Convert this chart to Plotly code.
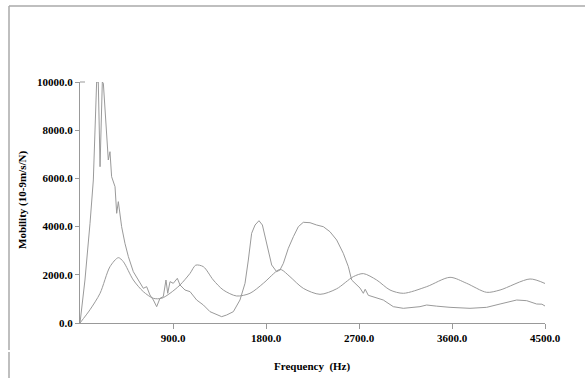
import plotly.graph_objects as go

# Jagged (measured) mobility curve
freq_a = [0, 48, 97, 129, 161, 170, 177, 194, 216, 226, 258, 274, 290, 306, 339, 355, 371, 387, 403,
          435, 468, 516, 565, 613, 645, 677, 710, 742, 774, 806, 832, 849, 871, 903, 942, 968, 1016,
          1065, 1129, 1194, 1258, 1323, 1371, 1419, 1484, 1548, 1597, 1629, 1661, 1694, 1732, 1765,
          1790, 1823, 1855, 1903, 1935, 1968, 2016, 2065, 2113, 2161, 2226, 2290, 2355, 2419, 2484,
          2548, 2597, 2629, 2677, 2710, 2742, 2760, 2790, 2839, 2935, 3032, 3129, 3290, 3355, 3450,
          3581, 3774, 3935, 4065, 4226, 4323, 4419, 4470, 4500]
mob_a = [0, 1784, 4137, 5934, 10000, 10000, 10000, 6485, 10000, 9950, 8000, 6763, 7108, 6071, 5657,
         4552, 5035, 4552, 3996, 3307, 2753, 2129, 1784, 1438, 1508, 1162, 954, 678, 1024, 1093, 1784,
         1232, 1715, 1647, 1854, 1577, 1369, 1300, 954, 747, 470, 332, 263, 332, 470, 954, 1647, 2614,
         3722, 4066, 4245, 4066, 3581, 2892, 2407, 2129, 2199, 2477, 3100, 3581, 3996, 4178, 4162,
         4066, 3996, 3788, 3444, 2892, 2336, 1784, 1577, 1450, 1232, 1400, 1150, 1093, 954, 678, 609,
         678, 747, 700, 650, 609, 650, 788, 954, 926, 788, 780, 705]

# Smooth (model) mobility curve
freq_b = [0, 97, 194, 290, 371, 419, 516, 613, 710, 790, 871, 968, 1065, 1120, 1194, 1290, 1387,
          1516, 1645, 1774, 1919, 1950, 2032, 2161, 2323, 2484, 2645, 2742, 2871, 3000, 3129, 3355,
          3581, 3742, 3935, 4065, 4355, 4500]
mob_b = [0, 553, 1232, 2336, 2711, 2546, 1784, 1300, 1024, 1024, 1232, 1577, 2060, 2400, 2336, 1784,
         1369, 1120, 1232, 1647, 2200, 2210, 1923, 1438, 1190, 1420, 1923, 2050, 1784, 1369, 1232,
         1508, 1895, 1647, 1273, 1369, 1826, 1640]

x_ticks = [900, 1800, 2700, 3600, 4500]
x_labels = ["900.0", "1800.0", "2700.0", "3600.0", "4500.0"]
y_ticks = [0, 2000, 4000, 6000, 8000, 10000]
y_labels = ["0.0", "2000.0", "4000.0", "6000.0", "8000.0", "10000.0"]

line_col = "#9a9a9a"
font_fam = "Liberation Serif"

fig = go.Figure()
fig.add_trace(go.Scatter(x=freq_a, y=mob_a, mode="lines",
                         line=dict(color=line_col, width=1), showlegend=False))
fig.add_trace(go.Scatter(x=freq_b, y=mob_b, mode="lines",
                         line=dict(color=line_col, width=1, shape="spline", smoothing=0.8),
                         showlegend=False))

W, H = 585, 378
L, R, T, B = 80, 40, 82, 55
pw, ph = W - L - R, H - T - B

def px2paper_x(px):
    return (px - L) / pw

def py2paper_y(py):
    return (H - B - py) / ph

frame = dict(color="#aaaaaa", width=1.5)
shapes = [
    dict(type="line", xref="paper", yref="paper", x0=px2paper_x(9), x1=px2paper_x(586),
         y0=py2paper_y(6), y1=py2paper_y(6), line=frame),
    dict(type="line", xref="paper", yref="paper", x0=px2paper_x(9), x1=px2paper_x(9),
         y0=py2paper_y(6), y1=py2paper_y(350), line=frame),
    dict(type="line", xref="paper", yref="paper", x0=px2paper_x(9), x1=px2paper_x(9),
         y0=py2paper_y(352), y1=py2paper_y(379), line=frame),
    dict(type="line", xref="paper", yref="paper", x0=px2paper_x(80), x1=px2paper_x(85),
         y0=1, y1=1, line=dict(color="#999999", width=1)),
]

fig.update_layout(
    width=W, height=H,
    margin=dict(l=L, r=R, t=T, b=B),
    paper_bgcolor="white", plot_bgcolor="white",
    font=dict(family=font_fam, size=11, color="black"),
    shapes=shapes,
    xaxis=dict(range=[0, 4500], tickvals=x_ticks, ticktext=x_labels, showgrid=False,
               zeroline=False, showline=True, linecolor="#999999", linewidth=1,
               ticks="outside", ticklen=5, tickcolor="#999999",
               tickfont=dict(family=font_fam, size=11, color="black", weight="bold")),
    yaxis=dict(range=[0, 10000], tickvals=y_ticks, ticktext=y_labels, showgrid=False,
               zeroline=False, showline=True, linecolor="#999999", linewidth=1,
               ticks="outside", ticklen=4, tickcolor="#999999",
               tickfont=dict(family=font_fam, size=11, color="black", weight="bold")),
    annotations=[
        dict(text="<b>Frequency  (Hz)</b>", xref="paper", yref="paper",
             x=px2paper_x(312), y=py2paper_y(366), showarrow=False,
             font=dict(family=font_fam, size=11, color="black"), xanchor="center", yanchor="middle"),
        dict(text="<b>Mobility (10-9m/s/N)</b>", xref="paper", yref="paper",
             x=px2paper_x(22), y=py2paper_y(200), showarrow=False, textangle=-90,
             font=dict(family=font_fam, size=11, color="black"), xanchor="center", yanchor="middle"),
    ],
)

fig.write_html("out.html")
